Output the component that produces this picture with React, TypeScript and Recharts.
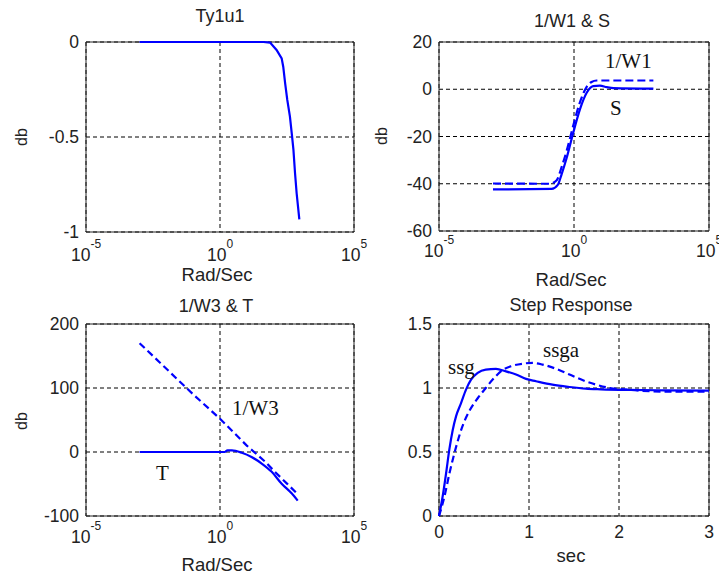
import React from 'react';
import { LineChart, Line, XAxis, YAxis, CartesianGrid, ReferenceArea } from 'recharts';

// ---- Panel 1: Ty1u1 ----
const ty1u1Freq = [0.001, 42, 74, 129, 200, 229, 269, 324, 407, 490, 550, 631, 724, 912];
const ty1u1Db = [0, 0, -0.003, -0.042, -0.086, -0.13, -0.217, -0.305, -0.393, -0.498, -0.568, -0.691, -0.796, -0.933];

// ---- Panel 2: 1/W1 & S ----
const sFreq = [0.001, 0.148, 0.251, 0.347, 0.537, 0.933, 1.66, 2.95, 5.13, 9.12, 16.2, 28.8, 871];
const sDb = [-42.4, -42.2, -40.5, -36, -29, -18.5, -8.5, -1.5, 1.3, 1.5, 0.9, 0.5, 0.3];
const w1Freq = [0.001, 0.129, 0.229, 0.347, 0.537, 0.933, 1.66, 2.95, 4.47, 6.92, 871];
const w1Db = [-39.9, -40, -38.5, -33, -26, -15.5, -5.5, 1, 3.1, 3.7, 3.7];

// ---- Panel 3: 1/W3 & T ----
const w3Freq = [0.001, 0.01, 0.1, 1, 10, 48, 112, 309, 794];
const w3Db = [170, 130, 90, 52, 10, -15, -31, -49, -66];
const tFreq = [0.001, 1.5, 1.9, 2.8, 6.5, 15, 36, 85, 200, 480, 794];
const tDb = [0, 0, 2.5, 2.5, -1.2, -7.8, -18, -31, -49.6, -65, -76];

// ---- Panel 4: Step Response ----
const ssgT = [0, 0.04, 0.078, 0.115, 0.152, 0.19, 0.244, 0.3, 0.356, 0.43, 0.52, 0.633, 0.744, 0.856, 0.967, 1.078, 1.26, 1.45, 1.63, 1.8, 2.1, 2.5, 3];
const ssgY = [0, 0.15, 0.33, 0.52, 0.67, 0.78, 0.88, 0.987, 1.065, 1.118, 1.144, 1.15, 1.13, 1.105, 1.071, 1.053, 1.026, 1.008, 0.995, 0.99, 0.985, 0.982, 0.98];
const ssgaT = [0, 0.06, 0.115, 0.19, 0.26, 0.337, 0.43, 0.52, 0.615, 0.707, 0.8, 0.93, 1.04, 1.15, 1.3, 1.45, 1.6, 1.75, 1.9, 2.05, 2.25, 2.5, 3];
const ssgaY = [0, 0.15, 0.33, 0.54, 0.7, 0.82, 0.92, 1.0, 1.08, 1.14, 1.17, 1.19, 1.196, 1.183, 1.15, 1.105, 1.06, 1.025, 1.0, 0.99, 0.978, 0.972, 0.972];

// ---- ticks ----
const logTicks = [1e-5, 1, 1e5];
const ty1u1YTicks = [-1, -0.5, 0];
const p2YTicks = [-60, -40, -20, 0, 20];
const p3YTicks = [-100, 0, 100, 200];
const stepXTicks = [0, 1, 2, 3];
const stepYTicks = [0, 0.5, 1, 1.5];

const pts = (xs: number[], ys: number[]) => xs.map((x, i) => ({ x, y: ys[i] }));

const SANS = '"Liberation Sans", Arial, Helvetica, sans-serif';
const SERIF = '"Liberation Serif", "Times New Roman", serif';
const TXT = '#222';
const BLUE = '#0000ff';
const FRAME = '#262626';

const makeLogTick = (dy: number) => (props: any) => {
  const { x, y, payload } = props;
  const e = Math.round(Math.log10(payload.value));
  return (
    <text x={x} y={y + dy} textAnchor="middle" fontSize={17.5} fill={TXT} fontFamily={SANS}>
      <tspan>10</tspan>
      <tspan fontSize={12} dy={-13}>{e}</tspan>
    </text>
  );
};

const makeNumXTick = (dy: number) => (props: any) => {
  const { x, y, payload } = props;
  return (
    <text x={x} y={y + dy} textAnchor="middle" fontSize={17.5} fill={TXT} fontFamily={SANS}>
      {String(payload.value)}
    </text>
  );
};

const YTick = (props: any) => {
  const { x, y, payload } = props;
  return (
    <text x={x - 7} y={y + 6} textAnchor="end" fontSize={17.5} fill={TXT} fontFamily={SANS}>
      {String(payload.value)}
    </text>
  );
};

const W = 719;
const H = 575;
const abs: React.CSSProperties = { position: 'absolute', left: 0, top: 0 };

export default function App() {
  return (
    <div style={{ position: 'absolute', left: 0, top: 0, width: W, height: H, background: '#fff', overflow: 'hidden' }}>
      {/* Panel 1 */}
      <div style={abs}>
        <LineChart width={W} height={H} margin={{ top: 42, right: 365, left: 36, bottom: 303 }}>
          <CartesianGrid stroke="#000" strokeDasharray="4 3" strokeWidth={1} />
          <XAxis dataKey="x" type="number" scale="log" domain={[1e-5, 1e5]} ticks={logTicks} height={40}
            axisLine={false} tickLine={false} tickSize={0} tickMargin={0} tick={makeLogTick(29)} interval={0} />
          <YAxis type="number" domain={[-1, 0]} ticks={ty1u1YTicks} width={50}
            axisLine={false} tickLine={false} tickSize={0} tickMargin={0} tick={<YTick />} interval={0} />
          <ReferenceArea x1={1e-5} x2={1e5} y1={-1} y2={0} fill="none" stroke={FRAME} strokeWidth={1} fillOpacity={0} />
          <Line data={pts(ty1u1Freq, ty1u1Db)} dataKey="y" type="linear" stroke={BLUE} strokeWidth={2.2} dot={false} isAnimationActive={false} />
        </LineChart>
      </div>

      {/* Panel 2 */}
      <div style={abs}>
        <LineChart width={W} height={H} margin={{ top: 42, right: 10, left: 389, bottom: 304 }}>
          <CartesianGrid stroke="#000" strokeDasharray="4 3" strokeWidth={1} />
          <XAxis dataKey="x" type="number" scale="log" domain={[1e-5, 1e5]} ticks={logTicks} height={40}
            axisLine={false} tickLine={false} tickSize={0} tickMargin={0} tick={makeLogTick(26)} interval={0} />
          <YAxis type="number" domain={[-60, 20]} ticks={p2YTicks} width={50}
            axisLine={false} tickLine={false} tickSize={0} tickMargin={0} tick={<YTick />} interval={0} />
          <ReferenceArea x1={1e-5} x2={1e5} y1={-60} y2={20} fill="none" stroke={FRAME} strokeWidth={1} fillOpacity={0} />
          <Line data={pts(w1Freq, w1Db)} dataKey="y" type="monotone" stroke={BLUE} strokeWidth={2.2} strokeDasharray="8 4" dot={false} isAnimationActive={false} />
          <Line data={pts(sFreq, sDb)} dataKey="y" type="monotone" stroke={BLUE} strokeWidth={2.2} dot={false} isAnimationActive={false} />
        </LineChart>
      </div>

      {/* Panel 3 */}
      <div style={abs}>
        <LineChart width={W} height={H} margin={{ top: 324, right: 365, left: 36, bottom: 19 }}>
          <CartesianGrid stroke="#000" strokeDasharray="4 3" strokeWidth={1} />
          <XAxis dataKey="x" type="number" scale="log" domain={[1e-5, 1e5]} ticks={logTicks} height={40}
            axisLine={false} tickLine={false} tickSize={0} tickMargin={0} tick={makeLogTick(27)} interval={0} />
          <YAxis type="number" domain={[-100, 200]} ticks={p3YTicks} width={50}
            axisLine={false} tickLine={false} tickSize={0} tickMargin={0} tick={<YTick />} interval={0} />
          <ReferenceArea x1={1e-5} x2={1e5} y1={-100} y2={200} fill="none" stroke={FRAME} strokeWidth={1} fillOpacity={0} />
          <Line data={pts(w3Freq, w3Db)} dataKey="y" type="linear" stroke={BLUE} strokeWidth={2.2} strokeDasharray="7 4" dot={false} isAnimationActive={false} />
          <Line data={pts(tFreq, tDb)} dataKey="y" type="monotone" stroke={BLUE} strokeWidth={2.2} dot={false} isAnimationActive={false} />
        </LineChart>
      </div>

      {/* Panel 4 */}
      <div style={abs}>
        <LineChart width={W} height={H} margin={{ top: 324, right: 10, left: 389, bottom: 19 }}>
          <CartesianGrid stroke="#000" strokeDasharray="4 3" strokeWidth={1} />
          <XAxis dataKey="x" type="number" domain={[0, 3]} ticks={stepXTicks} height={40}
            axisLine={false} tickLine={false} tickSize={0} tickMargin={0} tick={makeNumXTick(22)} interval={0} />
          <YAxis type="number" domain={[0, 1.5]} ticks={stepYTicks} width={50}
            axisLine={false} tickLine={false} tickSize={0} tickMargin={0} tick={<YTick />} interval={0} />
          <ReferenceArea x1={0} x2={3} y1={0} y2={1.5} fill="none" stroke={FRAME} strokeWidth={1} fillOpacity={0} />
          <Line data={pts(ssgaT, ssgaY)} dataKey="y" type="monotone" stroke={BLUE} strokeWidth={2.2} strokeDasharray="7 4" dot={false} isAnimationActive={false} />
          <Line data={pts(ssgT, ssgY)} dataKey="y" type="monotone" stroke={BLUE} strokeWidth={2.2} dot={false} isAnimationActive={false} />
        </LineChart>
      </div>

      {/* Titles, axis labels and annotations */}
      <svg width={W} height={H} style={{ ...abs, pointerEvents: 'none' }}>
        <g fontFamily={SANS} fill={TXT}>
          <text x={220} y={22} fontSize={18} textAnchor="middle">Ty1u1</text>
          <text x={572} y={26.5} fontSize={18} textAnchor="middle">1/W1 &amp; S</text>
          <text x={216} y={311.5} fontSize={18} textAnchor="middle">1/W3 &amp; T</text>
          <text x={571} y={311} fontSize={18} textAnchor="middle">Step Response</text>

          <text x={217} y={281} fontSize={18.5} textAnchor="middle">Rad/Sec</text>
          <text x={571} y={286} fontSize={18.5} textAnchor="middle">Rad/Sec</text>
          <text x={217} y={571} fontSize={18.5} textAnchor="middle">Rad/Sec</text>
          <text x={571} y={562} fontSize={18.5} textAnchor="middle">sec</text>

          <text x={27} y={137} fontSize={16} textAnchor="middle" transform="rotate(-90 27 137)">db</text>
          <text x={387} y={136} fontSize={16} textAnchor="middle" transform="rotate(-90 387 136)">db</text>
          <text x={27} y={421} fontSize={16} textAnchor="middle" transform="rotate(-90 27 421)">db</text>
        </g>
        <g fontFamily={SERIF} fill="#111" fontSize={21}>
          <text x={605} y={68}>1/W1</text>
          <text x={610} y={115}>S</text>
          <text x={232} y={415}>1/W3</text>
          <text x={156} y={480}>T</text>
          <text x={448} y={374}>ssg</text>
          <text x={543} y={357}>ssga</text>
        </g>
      </svg>
    </div>
  );
}
